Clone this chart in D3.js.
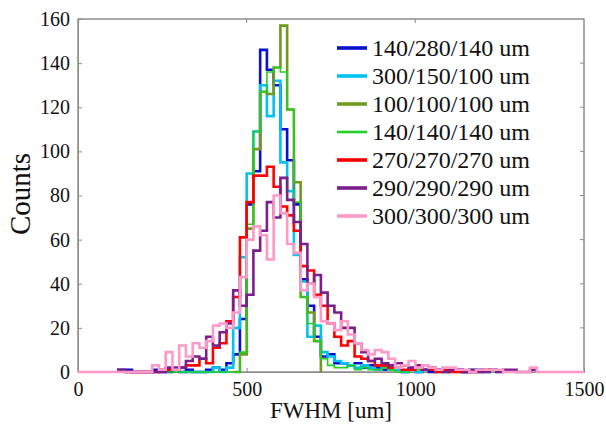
<!DOCTYPE html>
<html>
<head>
<meta charset="utf-8">
<script src="https://cdn.jsdelivr.net/npm/d3@7"></script>
<style>
  body { margin: 0; background: #fff; }
  svg { display: block; }
  .axis path, .axis line { stroke: #8c8c8c; }
</style>
</head>
<body>
<svg id="chart" width="606" height="424"></svg>
<script>
  // ── Data (histograms, 20 um bins) ─────────────────────────────────────────
  const binWidth = 20;
  const seriesNames = [
    '140/280/140 um', '300/150/100 um', '100/100/100 um', '140/140/140 um',
    '270/270/270 um', '290/290/290 um', '300/300/300 um'
  ];
  const seriesColors = ['#0a0fd0', '#00c4f0', '#6f9a1c', '#22d022', '#ff0000', '#7a1f8c', '#ff99c8'];
  const seriesWidths = [2.6, 2.6, 2.6, 1.6, 2.6, 2.6, 2.6];

  // first bin edge of each series
  const binStarts = [120, 300, 460, 180, 140, 120, 0];

  const counts140_280_140 = [1, 1, 0, 0, 0, 1, 0, 0, 1, 0, 1, 0, 0, 1, 2, 1, 4, 8, 24, 76, 91, 146, 137,
    130, 110, 96, 76, 42, 30, 16, 7, 8, 4, 4, 3, 4, 2, 3, 2, 1, 1, 1, 0, 1, 0, 1, 0, 1, 1, 1, 1, 0, 0, 1];
  const counts300_150_100 = [0, 0, 0, 0, 0, 2, 0, 2, 20, 52, 90, 109, 130, 116, 132, 95, 82, 53, 41, 16,
    21, 9, 7, 5, 4, 3, 2, 3, 2, 1, 2, 1, 1, 0, 1, 0, 1, 1, 0, 0, 1, 0, 0, 1, 1, 0, 1, 0];
  const counts100_100_100 = [0, 8, 65, 101, 127, 126, 138, 157, 119, 86, 34, 27, 14];
  const counts140_140_140 = [0, 0, 0, 0, 0, 0, 0, 0, 0, 0, 0, 0, 0, 0, 0, 9, 67, 109, 127, 136, 138, 136,
    119, 77, 34, 22, 14, 6, 3, 2, 2, 3, 1, 2, 1, 1, 2, 1, 0, 0, 1, 1];
  const counts270_270_270 = [0, 0, 0, 0, 0, 1, 1, 1, 2, 3, 3, 6, 4, 11, 13, 23, 34, 61, 77, 89, 89, 93,
    84, 75, 71, 64, 48, 46, 35, 30, 22, 16, 12, 14, 7, 6, 5, 3, 3, 2, 2, 1, 1, 2, 1, 1, 0, 1, 0, 0, 0, 0, 0, 1];
  const counts290_290_290 = [1, 0, 0, 0, 0, 0, 0, 2, 2, 2, 5, 7, 6, 16, 12, 18, 22, 37, 30, 35, 55, 64,
    77, 70, 88, 78, 68, 58, 40, 44, 36, 30, 27, 20, 20, 13, 9, 5, 6, 4, 3, 4, 3, 2, 3, 1, 2, 1, 0, 1, 1, 0,
    1, 0, 0, 1, 0, 1, 1, 0, 0, 1];
  const counts300_300_300 = [0, 0, 0, 0, 0, 0, 0, 0, 0, 0, 0, 3, 1, 9, 1, 12, 7, 13, 11, 14, 21, 22, 20,
    27, 43, 60, 66, 62, 51, 80, 72, 58, 54, 37, 40, 34, 23, 22, 19, 23, 17, 13, 10, 8, 10, 9, 6, 2, 3, 5,
    2, 3, 2, 1, 2, 2, 1, 1, 0, 1, 1, 1, 1, 0, 0, 0, 0, 2, 0, 0, 0, 0, 0, 0, 0];

  const seriesCounts = [counts140_280_140, counts300_150_100, counts100_100_100, counts140_140_140,
    counts270_270_270, counts290_290_290, counts300_300_300];

  const xTicks = [0, 500, 1000, 1500];
  const yTicks = [0, 20, 40, 60, 80, 100, 120, 140, 160];

  (function () {
    const serif = '"Liberation Serif", "Times New Roman", Times, serif';

    // ── Layout ──────────────────────────────────────────────────────────────
    const plotLeft = 78, plotRight = 584, plotTop = 19, plotBottom = 372;
    const svg = d3.select('#chart');

    const x = d3.scaleLinear().domain([0, 1500]).range([plotLeft, plotRight]);
    const y = d3.scaleLinear().domain([0, 160]).range([plotBottom, plotTop]);

    // frame
    svg.append('rect')
      .attr('x', plotLeft).attr('y', plotTop)
      .attr('width', plotRight - plotLeft).attr('height', plotBottom - plotTop)
      .attr('fill', 'none').attr('stroke', '#555').attr('stroke-width', 1);

    // ── Axes (ticks inside) ─────────────────────────────────────────────────
    const xAxis = svg.append('g').attr('class', 'axis')
      .attr('transform', `translate(0,${plotBottom})`)
      .call(d3.axisBottom(x).tickValues(xTicks).tickFormat(d3.format('d'))
        .tickSizeInner(-4).tickSizeOuter(0).tickPadding(10));

    const yAxis = svg.append('g').attr('class', 'axis')
      .attr('transform', `translate(${plotLeft},0)`)
      .call(d3.axisLeft(y).tickValues(yTicks).tickFormat(d3.format('d'))
        .tickSizeInner(-4).tickSizeOuter(0).tickPadding(8));

    [xAxis, yAxis].forEach(function (g) {
      g.attr('font-family', serif).attr('font-size', 20);
      g.selectAll('text').attr('fill', '#111');
    });

    // top/right ticks
    svg.append('g').selectAll('line').data(yTicks.slice(1, -1)).join('line')
      .attr('x1', plotRight).attr('x2', plotRight - 4)
      .attr('y1', d => y(d)).attr('y2', d => y(d))
      .attr('stroke', '#8c8c8c');
    svg.append('g').selectAll('line').data(xTicks.slice(1, -1)).join('line')
      .attr('x1', d => x(d)).attr('x2', d => x(d))
      .attr('y1', plotTop).attr('y2', plotTop + 4)
      .attr('stroke', '#8c8c8c');

    // ── Histograms as stairs ────────────────────────────────────────────────
    const stair = d3.line()
      .x(d => x(d[0]))
      .y(d => y(d[1]))
      .curve(d3.curveStepAfter);

    const plot = svg.append('g');
    seriesCounts.forEach(function (cs, i) {
      const s = binStarts[i];
      const pts = [[s, 0]];
      cs.forEach(function (c, j) { pts.push([s + j * binWidth, c]); });
      const end = s + cs.length * binWidth;
      pts.push([end, cs[cs.length - 1]]);
      pts.push([end, 0]);
      plot.append('path')
        .attr('d', stair(pts))
        .attr('fill', 'none')
        .attr('stroke', seriesColors[i])
        .attr('stroke-width', seriesWidths[i]);
    });

    // ── Legend ──────────────────────────────────────────────────────────────
    const legend = svg.append('g').attr('font-family', serif);
    seriesNames.forEach(function (name, i) {
      const ly = 48 + i * 28;
      legend.append('line')
        .attr('x1', 337).attr('x2', 367).attr('y1', ly).attr('y2', ly)
        .attr('stroke', seriesColors[i]).attr('stroke-width', seriesWidths[i] + 1);
      legend.append('text')
        .attr('x', 372).attr('y', ly + 8)
        .attr('font-size', 24)
        .attr('fill', '#111')
        .text(name);
    });

    // ── Axis labels ─────────────────────────────────────────────────────────
    svg.append('text')
      .attr('x', (plotLeft + plotRight) / 2).attr('y', 418)
      .attr('text-anchor', 'middle').attr('font-size', 23).attr('fill', '#111')
      .attr('font-family', serif)
      .text('FWHM [um]');
    svg.append('text')
      .attr('transform', 'translate(30,194) rotate(-90)')
      .attr('text-anchor', 'middle').attr('font-size', 29).attr('fill', '#111')
      .attr('font-family', serif)
      .text('Counts');
  })();
</script>
</body>
</html>
